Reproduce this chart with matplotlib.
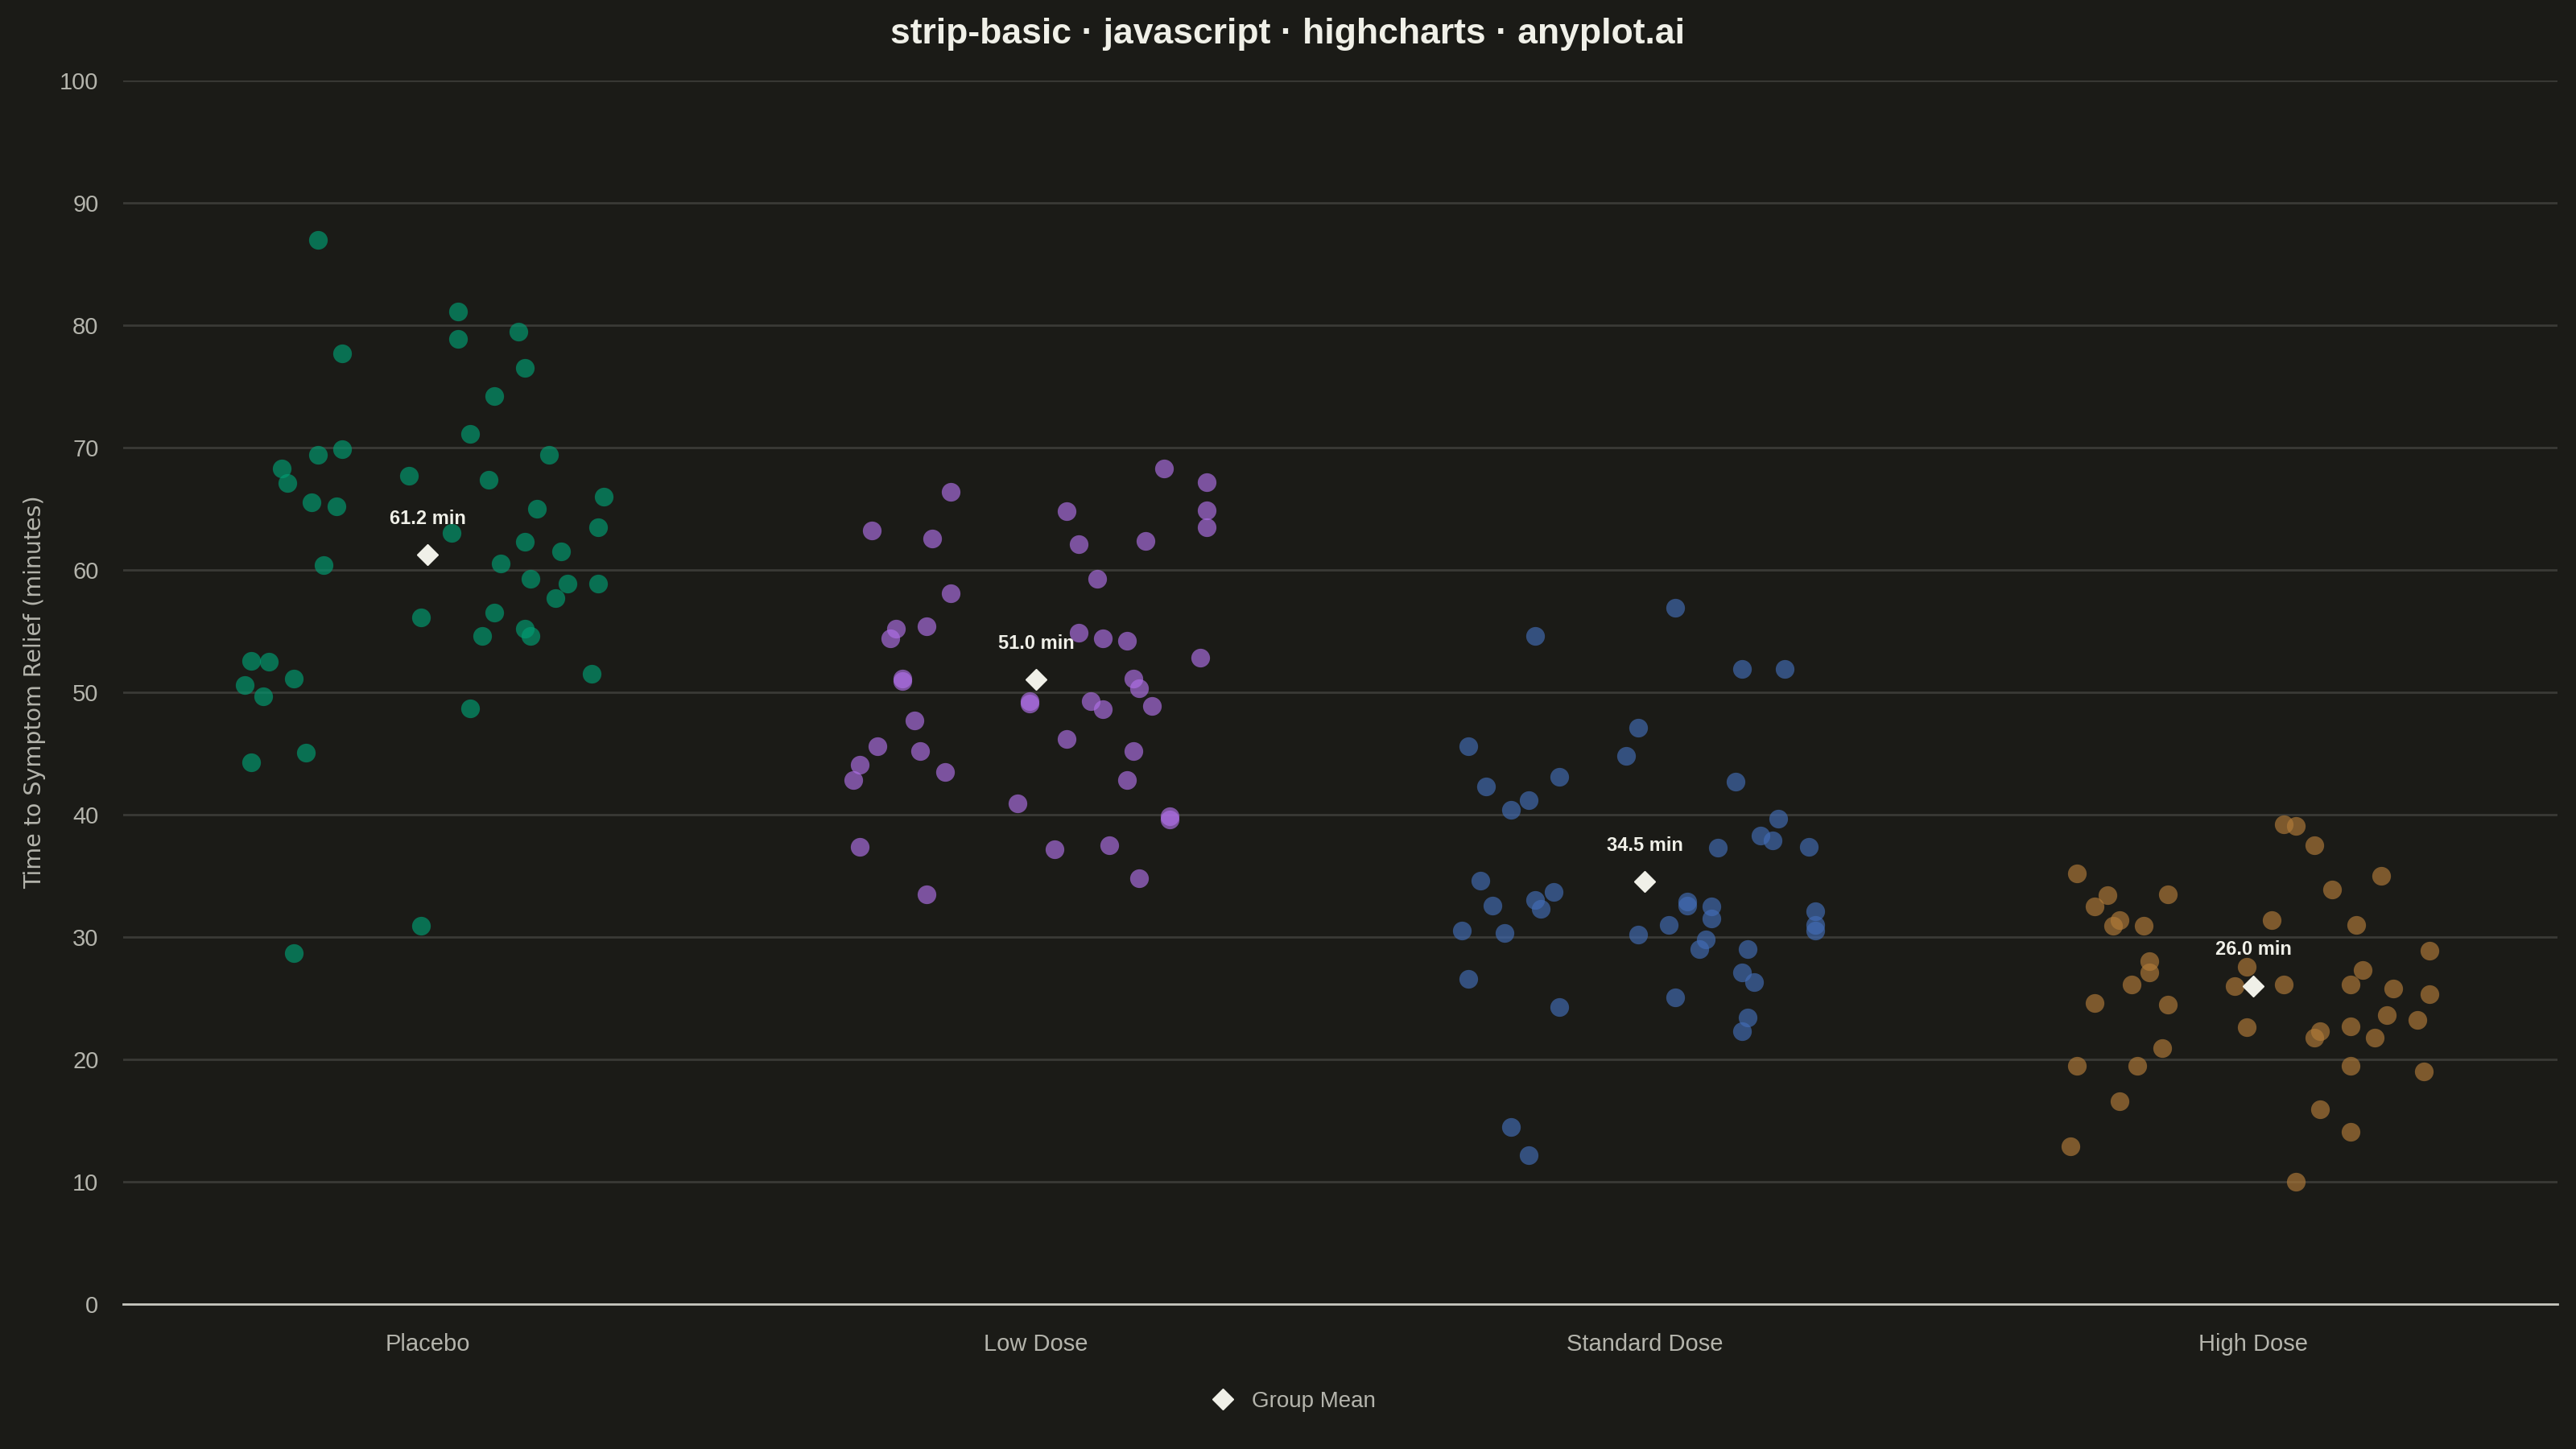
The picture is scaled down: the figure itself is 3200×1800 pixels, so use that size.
import matplotlib
matplotlib.use('Agg')
import matplotlib.pyplot as plt
from matplotlib.lines import Line2D

# data
groups = ['Placebo', 'Low Dose', 'Standard Dose', 'High Dose']

placebo = [87.0, 77.7, 81.1, 78.9, 79.5, 76.5, 74.2, 71.1, 69.9, 69.4,
           69.4, 68.3, 67.1, 67.7, 67.4, 65.5, 65.2, 66.0, 65.0, 63.5,
           63.0, 62.3, 61.5, 60.4, 60.5, 59.3, 58.9, 58.9, 57.7, 56.1,
           56.5, 55.2, 54.6, 54.6, 51.5, 52.6, 52.5, 51.1, 50.6, 49.7,
           48.7, 44.3, 45.1, 30.9, 28.7]
placebo_jit = [-0.18, -0.14, 0.05, 0.05, 0.15, 0.16, 0.11, 0.07, -0.14, -0.18,
               0.20, -0.24, -0.23, -0.03, 0.10, -0.19, -0.15, 0.29, 0.18, 0.28,
               0.04, 0.16, 0.22, -0.17, 0.12, 0.17, 0.28, 0.23, 0.21, -0.01,
               0.11, 0.16, 0.17, 0.09, 0.27, -0.29, -0.26, -0.22, -0.30, -0.27,
               0.07, -0.29, -0.20, -0.01, -0.22]

low = [68.3, 67.2, 66.4, 64.9, 64.8, 63.2, 62.6, 63.5, 62.1, 62.4,
       59.3, 58.1, 55.2, 54.4, 55.4, 54.9, 54.4, 54.2, 52.8, 51.1,
       50.9, 51.1, 50.3, 49.1, 49.3, 49.3, 48.6, 48.9, 47.7, 45.6,
       45.2, 46.2, 45.2, 44.1, 43.5, 42.8, 42.8, 40.9, 39.9, 39.6,
       37.4, 37.2, 37.5, 34.8, 33.5]
low_jit = [0.21, 0.28, -0.14, 0.28, 0.05, -0.27, -0.17, 0.28, 0.07, 0.18,
           0.10, -0.14, -0.23, -0.24, -0.18, 0.07, 0.11, 0.15, 0.27, -0.22,
           -0.22, 0.16, 0.17, -0.01, -0.01, 0.09, 0.11, 0.19, -0.20, -0.26,
           -0.19, 0.05, 0.16, -0.29, -0.15, -0.30, 0.15, -0.03, 0.22, 0.22,
           -0.29, 0.03, 0.12, 0.17, -0.18]

standard = [56.9, 54.6, 51.9, 51.9, 47.1, 45.6, 44.8, 43.1, 42.3, 42.7,
            41.2, 40.4, 39.7, 38.3, 37.9, 37.3, 37.4, 34.6, 33.7, 33.0,
            32.3, 32.6, 32.9, 32.6, 32.5, 32.1, 31.5, 31.0, 31.0, 30.5,
            30.5, 30.3, 30.2, 29.8, 29.0, 29.0, 27.1, 26.3, 26.6, 25.1,
            24.3, 23.4, 22.3, 14.5, 12.2]
standard_jit = [0.05, -0.18, 0.16, 0.23, -0.01, -0.29, -0.03, -0.14, -0.26, 0.15,
                -0.19, -0.22, 0.22, 0.19, 0.21, 0.12, 0.27, -0.27, -0.15, -0.18,
                -0.17, -0.25, 0.07, 0.07, 0.11, 0.28, 0.11, 0.04, 0.28, 0.28,
                -0.30, -0.23, -0.01, 0.10, 0.09, 0.17, 0.16, 0.18, -0.29, 0.05,
                -0.14, 0.17, 0.16, -0.22, -0.19]

high = [39.2, 39.1, 37.5, 35.2, 35.0, 33.4, 33.5, 33.9, 32.5, 31.4,
        30.9, 30.9, 31.4, 31.0, 28.9, 28.0, 27.1, 27.6, 27.3, 26.1,
        26.1, 26.0, 26.1, 24.6, 24.5, 25.8, 25.3, 23.6, 23.2, 22.6,
        22.7, 22.3, 21.8, 21.8, 20.9, 19.5, 19.5, 19.5, 19.0, 16.6,
        15.9, 14.1, 12.9, 10.0]
high_jit = [0.05, 0.07, 0.10, -0.29, 0.21, -0.24, -0.14, 0.13, -0.26, -0.22,
            -0.23, -0.18, 0.03, 0.17, 0.29, -0.17, -0.17, -0.01, 0.18, 0.16,
            -0.20, -0.03, 0.05, -0.26, -0.14, 0.23, 0.29, 0.22, 0.27, -0.01,
            0.16, 0.11, 0.10, 0.20, -0.15, -0.29, -0.19, 0.16, 0.28, -0.22,
            0.11, 0.16, -0.30, 0.07]

values = [placebo, low, standard, high]
jitters = [placebo_jit, low_jit, standard_jit, high_jit]
colors = ['#009E73', '#B070E8', '#426DB7', '#B27C39']

bg = '#1b1b17'
plt.rcParams['font.family'] = ['Liberation Sans', 'DejaVu Sans']

fig = plt.figure(figsize=(32, 18), dpi=100, facecolor=bg)
ax = fig.add_axes([0.0478, 0.1, 0.945, 0.8444])
ax.set_facecolor(bg)

for i, (vals, jit, col) in enumerate(zip(values, jitters, colors)):
    xs = [i + j for j in jit]
    ax.scatter(xs, vals, s=280, color=col, alpha=0.65, linewidths=0, zorder=3)
    mean = sum(vals) / len(vals)
    ax.plot([i], [mean], marker='D', markersize=13, color='#f0f0e8',
            linestyle='none', zorder=5)
    ax.annotate(f'{mean:.1f} min', (i, mean), xytext=(0, 24),
                textcoords='offset points', ha='center', va='bottom',
                fontsize=17, fontweight='bold', color='#f0f0e8', zorder=6)

ax.set_xlim(-0.5, 3.5)
ax.set_ylim(0, 100)
ax.set_yticks(range(0, 101, 10))
ax.set_xticks(range(len(groups)))
ax.set_xticklabels(groups)
ax.grid(axis='y', color='#3a3a36', linewidth=2)
ax.set_axisbelow(True)
for side in ['top', 'right', 'left']:
    ax.spines[side].set_visible(False)
ax.spines['bottom'].set_color('#c8c8c0')
ax.spines['bottom'].set_linewidth(2)
ax.tick_params(axis='both', length=0, labelsize=21, colors='#b4b4ac')
ax.tick_params(axis='x', pad=26)
ax.tick_params(axis='y', pad=22)
ax.set_ylabel('Time to Symptom Relief (minutes)', fontsize=20.5,
              color='#b4b4ac', labelpad=12, family=['DejaVu Sans'])

fig.suptitle('strip-basic · javascript · highcharts · anyplot.ai', y=0.988,
             fontsize=32, fontweight='bold', color='#f0f0e8')

handle = Line2D([], [], marker='D', markersize=13, color='#f0f0e8', linestyle='none')
leg = fig.legend([handle], ['Group Mean'], loc='center', bbox_to_anchor=(0.5, 0.033),
                 frameon=False, fontsize=20, handletextpad=0.3)
for t in leg.get_texts():
    t.set_color('#b4b4ac')

fig.savefig('out.png', dpi=100, facecolor=bg)
